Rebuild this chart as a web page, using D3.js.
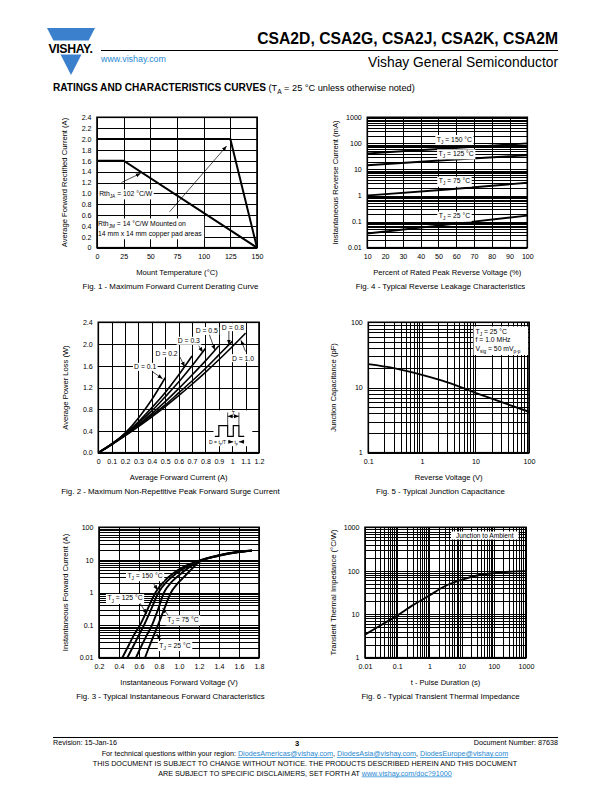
<!DOCTYPE html>
<html>
<head>
<meta charset="utf-8">
<script src="https://cdn.jsdelivr.net/npm/d3@7/dist/d3.min.js"></script>
<style>
html,body{margin:0;padding:0;background:#fff;}
svg{display:block;}
</style>
</head>
<body>
<svg id="page" width="612" height="792" xmlns="http://www.w3.org/2000/svg"></svg>
<script>
// ================= DATA =================
// Fig. 1 - Maximum Forward Current Derating Curve
const fig1XTicks = [0, 25, 50, 75, 100, 125, 150];
const fig1XLabels = ["0", "25", "50", "75", "100", "125", "150"];
const fig1YTicks = [0, 0.2, 0.4, 0.6, 0.8, 1.0, 1.2, 1.4, 1.6, 1.8, 2.0, 2.2, 2.4];
const fig1YLabels = ["0", "0.2", "0.4", "0.6", "0.8", "1.0", "1.2", "1.4", "1.6", "1.8", "2.0", "2.2", "2.4"];
const fig1TempJA = [0, 25, 150];
const fig1CurrJA = [1.6, 1.6, 0];
const fig1TempJM = [0, 125, 150];
const fig1CurrJM = [2.0, 2.0, 0];

// Fig. 2 - Average power loss
const fig2XTicks = [0, 0.1, 0.2, 0.3, 0.4, 0.5, 0.6, 0.7, 0.8, 0.9, 1.0, 1.1, 1.2];
const fig2XLabels = ["0", "0.1", "0.2", "0.3", "0.4", "0.5", "0.6", "0.7", "0.8", "0.9", "1", "1.1", "1.2"];
const fig2YTicks = [0, 0.4, 0.8, 1.2, 1.6, 2.0, 2.4];
const fig2YLabels = ["0.0", "0.4", "0.8", "1.2", "1.6", "2.0", "2.4"];
const fig2Current = [0, 0.1, 0.2, 0.3, 0.4, 0.5, 0.6, 0.7, 0.8, 0.9, 1.0, 1.1];
const fig2DutyLabels = ["0.1", "0.2", "0.3", "0.5", "0.8", "1.0"];
const fig2LossD01 = [0, 0.15, 0.36, 0.64, 0.98, 1.38];
const fig2LossD02 = [0, 0.16, 0.35, 0.57, 0.83, 1.11, 1.43, 1.78];
const fig2LossD03 = [0, 0.16, 0.34, 0.55, 0.77, 1.03, 1.30, 1.60, 1.92];
const fig2LossD05 = [0, 0.16, 0.33, 0.52, 0.72, 0.94, 1.18, 1.43, 1.69, 1.97];
const fig2LossD08 = [0, 0.15, 0.32, 0.50, 0.69, 0.88, 1.10, 1.32, 1.55, 1.80, 2.05];
const fig2LossD10 = [0, 0.15, 0.31, 0.48, 0.66, 0.85, 1.05, 1.26, 1.48, 1.71, 1.95, 2.20];

// Fig. 3 - Typical instantaneous forward characteristics
const fig3XTicks = [0.2, 0.4, 0.6, 0.8, 1.0, 1.2, 1.4, 1.6, 1.8];
const fig3XLabels = ["0.2", "0.4", "0.6", "0.8", "1.0", "1.2", "1.4", "1.6", "1.8"];
const fig3YTicks = [0.01, 0.1, 1, 10, 100];
const fig3YLabels = ["0.01", "0.1", "1", "10", "100"];
const fig3TempLabels = ["150", "125", "75", "25"];
const fig3V150 = [0.433, 0.50, 0.55, 0.61, 0.68, 0.765, 0.85, 0.95, 1.05, 1.2, 1.4, 1.6, 1.73];
const fig3I150 = [0.01, 0.025, 0.05, 0.1, 0.28, 1, 2.2, 4.0, 6.2, 9.5, 14, 17.8, 19.5];
const fig3V125 = [0.483, 0.55, 0.60, 0.65, 0.72, 0.795, 0.88, 0.97, 1.07, 1.2, 1.4, 1.6, 1.73];
const fig3I125 = [0.01, 0.025, 0.05, 0.1, 0.3, 1, 2.2, 3.8, 6.0, 9.3, 13.8, 17.6, 19.3];
const fig3V75 = [0.57, 0.63, 0.68, 0.73, 0.79, 0.85, 0.92, 1.0, 1.09, 1.2, 1.4, 1.6, 1.73];
const fig3I75 = [0.01, 0.025, 0.05, 0.1, 0.3, 1, 2.0, 3.4, 5.6, 9.0, 13.6, 17.5, 19.2];
const fig3V25 = [0.66, 0.71, 0.75, 0.79, 0.85, 0.92, 0.98, 1.05, 1.12, 1.2, 1.4, 1.6, 1.73];
const fig3I25 = [0.01, 0.025, 0.05, 0.1, 0.3, 1, 1.8, 3.0, 5.0, 8.5, 13.4, 17.4, 19.0];

// Fig. 4 - Typical reverse leakage characteristics
const fig4XTicks = [10, 20, 30, 40, 50, 60, 70, 80, 90, 100];
const fig4XLabels = ["10", "20", "30", "40", "50", "60", "70", "80", "90", "100"];
const fig4YTicks = [0.01, 0.1, 1, 10, 100, 1000];
const fig4YLabels = ["0.01", "0.1", "1", "10", "100", "1000"];
const fig4TempLabels = ["150", "125", "75", "25"];
const fig4Percent = [10, 55, 100];
const fig4I150 = [41, 64, 100];
const fig4I125 = [14.5, 23, 35];
const fig4I75 = [1.0, 1.7, 3.1];
const fig4I25 = [0.035, 0.077, 0.17];

// Fig. 5 - Typical junction capacitance
const fig5XTicks = [0.1, 1, 10, 100];
const fig5XLabels = ["0.1", "1", "10", "100"];
const fig5YTicks = [1, 10, 100];
const fig5YLabels = ["1", "10", "100"];
const fig5Voltage = [0.1, 0.3, 1, 3, 10, 30, 100];
const fig5Cap = [22.8, 19.8, 15.6, 12.0, 8.3, 6.0, 4.25];

// Fig. 6 - Typical transient thermal impedance
const fig6XTicks = [0.01, 0.1, 1, 10, 100, 1000];
const fig6XLabels = ["0.01", "0.1", "1", "10", "100", "1000"];
const fig6YTicks = [1, 10, 100, 1000];
const fig6YLabels = ["1", "10", "100", "1000"];
const fig6Time = [0.01, 0.03, 0.1, 0.3, 1, 3, 10, 30, 100, 300, 1000];
const fig6Z = [3.4, 5.5, 9.3, 16, 27, 44, 62, 78, 88, 95, 98];

// ================= DRAWING =================
const FONT = '"Liberation Sans", Arial, Helvetica, sans-serif';
const svg = d3.select('#page').attr('font-family', FONT);
svg.append('rect').attr('width', 612).attr('height', 792).attr('fill', '#fff');

const defs = svg.append('defs');
defs.append('marker').attr('id', 'ah').attr('viewBox', '0 0 10 10')
  .attr('refX', 10).attr('refY', 5).attr('markerWidth', 5).attr('markerHeight', 5)
  .attr('markerUnits', 'userSpaceOnUse').attr('orient', 'auto')
  .append('path').attr('d', 'M0,1 L10,5 L0,9 Z').attr('fill', '#000');

function logGrid(a, b) {
  const v = [];
  const e0 = Math.round(Math.log10(a)), e1 = Math.round(Math.log10(b));
  for (let e = e0; e < e1; e++) for (let k = 1; k < 10; k++) v.push(+(k * Math.pow(10, e)).toPrecision(6));
  v.push(b);
  return v;
}

function rich(g, xp, yp, parts, size, anchor, boxed, pad) {
  const t = g.append('text').attr('x', xp).attr('y', yp).attr('font-size', size)
    .attr('text-anchor', anchor || 'start').attr('fill', '#000');
  let pend = 0;
  parts.forEach(p => {
    const s = t.append('tspan');
    if (typeof p === 'string') { s.text(p); if (pend) { s.attr('dy', pend); pend = 0; } }
    else { s.attr('font-size', size * 0.7).attr('dy', size * 0.3).text(p.sub); pend = -size * 0.3; }
  });
  if (boxed) {
    const b = t.node().getBBox();
    const pd = pad == null ? 1 : pad;
    g.insert('rect', () => t.node()).attr('x', b.x - pd).attr('y', b.y - 0.5)
      .attr('width', b.width + 2 * pd).attr('height', b.height + 1).attr('fill', '#fff');
  }
  return t;
}

function arrow(g, x1, y1, x2, y2) {
  g.append('line').attr('x1', x1).attr('y1', y1).attr('x2', x2).attr('y2', y2)
    .attr('stroke', '#000').attr('stroke-width', 0.7).attr('marker-end', 'url(#ah)');
}

function makeChart(c) {
  const g = svg.append('g');
  const [L, R, T, B] = c.box;
  const W = R - L, H = B - T;
  const x = (c.xLog ? d3.scaleLog() : d3.scaleLinear()).domain(c.xDomain).range([L, R]);
  const y = (c.yLog ? d3.scaleLog() : d3.scaleLinear()).domain(c.yDomain).range([B, T]);
  // grid lines
  g.append('g').attr('transform', `translate(0,${B})`)
    .call(d3.axisBottom(x).tickValues(c.xGrid).tickSize(-H).tickFormat(''))
    .call(a => { a.select('.domain').remove(); a.selectAll('line').attr('stroke', '#000').attr('stroke-width', 1).attr('shape-rendering', 'crispEdges'); });
  g.append('g').attr('transform', `translate(${L},0)`)
    .call(d3.axisLeft(y).tickValues(c.yGrid).tickSize(-W).tickFormat(''))
    .call(a => { a.select('.domain').remove(); a.selectAll('line').attr('stroke', '#000').attr('stroke-width', 1).attr('shape-rendering', 'crispEdges'); });
  // frame
  g.append('rect').attr('x', L).attr('y', T).attr('width', W).attr('height', H)
    .attr('fill', 'none').attr('stroke', '#000').attr('stroke-width', 1.6);
  // tick labels
  const xa = g.append('g').attr('transform', `translate(0,${B + 6.5})`)
    .call(d3.axisBottom(x).tickValues(c.xTicks).tickFormat((d, i) => c.xLabels[i]).tickSize(0).tickPadding(0));
  xa.select('.domain').remove();
  xa.attr('font-family', FONT).attr('font-size', 7.1);
  xa.selectAll('text').attr('fill', '#000');
  const ya = g.append('g').attr('transform', `translate(${L - 5.5},0)`)
    .call(d3.axisLeft(y).tickValues(c.yTicks).tickFormat((d, i) => c.yLabels[i]).tickSize(0).tickPadding(0));
  ya.select('.domain').remove();
  ya.attr('font-family', FONT).attr('font-size', 7.1);
  ya.selectAll('text').attr('fill', '#000');
  // axis titles
  g.append('text').attr('x', (L + R) / 2).attr('y', B + 27).attr('text-anchor', 'middle')
    .attr('font-size', 7.6).text(c.xTitle);
  g.append('text').attr('transform', `translate(${c.yTitleX},${(T + B) / 2}) rotate(-90)`)
    .attr('text-anchor', 'middle').attr('font-size', 7.6).text(c.yTitle);
  // caption
  g.append('text').attr('x', c.capX).attr('y', B + 41.5).attr('text-anchor', 'middle')
    .attr('font-size', 7.9).text(c.caption);
  return { g, x, y };
}

function drawLine(ch, xs, ys, w, curve) {
  const pts = xs.map((v, i) => [v, ys[i]]);
  ch.g.append('path').datum(pts)
    .attr('d', d3.line().x(d => ch.x(d[0])).y(d => ch.y(d[1])).curve(curve || d3.curveLinear))
    .attr('fill', 'none').attr('stroke', '#000').attr('stroke-width', w || 1.8)
    .attr('stroke-linejoin', 'miter');
}

const LEFT_CAP = 170.5, RIGHT_CAP = 440.5;

// ---------- Fig. 1 ----------
{
  const ch = makeChart({
    box: [97, 257, 117.3, 247.7], xDomain: [0, 150], yDomain: [0, 2.4],
    xGrid: fig1XTicks, yGrid: fig1YTicks, xTicks: fig1XTicks, xLabels: fig1XLabels,
    yTicks: fig1YTicks, yLabels: fig1YLabels,
    xTitle: 'Mount Temperature (°C)', yTitle: 'Average Forward Rectified Current (A)', yTitleX: 67,
    caption: 'Fig. 1 - Maximum Forward Current Derating Curve', capX: LEFT_CAP
  });
  const { g, x, y } = ch;
  const t1 = rich(g, x(1), y(0.4), ['Rth', { sub: 'JM' }, ' = 14 °C/W Mounted on'], 6.8, 'start', false);
  const t2 = rich(g, x(1), y(0.22), ['14 mm x 14 mm copper  pad areas'], 6.8, 'start', false);
  const b1 = t1.node().getBBox(), b2 = t2.node().getBBox();
  g.insert('rect', () => t1.node()).attr('x', x(0) + 1).attr('y', b1.y - 1.5)
    .attr('width', Math.max(b1.x + b1.width, b2.x + b2.width) - x(0) + 1).attr('height', b2.y + b2.height - b1.y + 3).attr('fill', '#fff');
  rich(g, x(2), y(1.0) + 2.5, ['Rth', { sub: 'JA' }, ' = 102 °C/W '], 6.8, 'start', true);
  drawLine(ch, fig1TempJA, fig1CurrJA, 2);
  drawLine(ch, fig1TempJM, fig1CurrJM, 2);
  arrow(g, x(23), y(1.2), x(41), y(1.37));
  arrow(g, x(68), y(0.66), x(121.5), y(1.87));
}

// ---------- Fig. 4 ----------
{
  const ch = makeChart({
    box: [367.3, 527.3, 117.3, 247.7], xDomain: [10, 100], yDomain: [0.01, 1000], yLog: true,
    xGrid: fig4XTicks, yGrid: logGrid(0.01, 1000), xTicks: fig4XTicks, xLabels: fig4XLabels,
    yTicks: fig4YTicks, yLabels: fig4YLabels,
    xTitle: 'Percent of Rated Peak Reverse Voltage (%)', yTitle: 'Instantaneous Reverse Current (mA)', yTitleX: 338,
    caption: 'Fig. 4 - Typical Reverse Leakage Characteristics', capX: RIGHT_CAP
  });
  const { g, x, y } = ch;
  drawLine(ch, fig4Percent, fig4I150, 1.9, d3.curveMonotoneX);
  drawLine(ch, fig4Percent, fig4I125, 1.9, d3.curveMonotoneX);
  drawLine(ch, fig4Percent, fig4I75, 1.9, d3.curveMonotoneX);
  drawLine(ch, fig4Percent, fig4I25, 1.9, d3.curveMonotoneX);
  const pos = [[59, 147], [60, 41.6], [59, 3.7], [59, 0.17]];
  fig4TempLabels.forEach((lab, i) => {
    rich(g, x(pos[i][0]), y(pos[i][1]) + 2.5, ['T', { sub: 'J' }, ' = ' + lab + ' °C'], 6.8, 'middle', true, 1.5);
  });
}

// ---------- Fig. 2 ----------
{
  const ch = makeChart({
    box: [98.3, 259, 322.3, 452.7], xDomain: [0, 1.2], yDomain: [0, 2.4],
    xGrid: fig2XTicks, yGrid: fig2YTicks, xTicks: fig2XTicks, xLabels: fig2XLabels,
    yTicks: fig2YTicks, yLabels: fig2YLabels,
    xTitle: 'Average Forward Current (A)', yTitle: 'Average Power Loss (W)', yTitleX: 68,
    caption: 'Fig. 2 - Maximum Non-Repetitive Peak Forward Surge Current', capX: LEFT_CAP
  });
  const { g, x, y } = ch;
  const series = [fig2LossD01, fig2LossD02, fig2LossD03, fig2LossD05, fig2LossD08, fig2LossD10];
  series.forEach(s => drawLine(ch, fig2Current.slice(0, s.length), s, 1.6, d3.curveMonotoneX));
  const lp = [[0.35, 1.58], [0.51, 1.83], [0.676, 2.06], [0.81, 2.24], [1.005, 2.31], [1.08, 1.74]];
  const ar = [[0.40, 1.50, 0.48, 1.36], [0.61, 1.76, 0.645, 1.58], [0.75, 1.97, 0.78, 1.85],
              [0.83, 2.17, 0.87, 1.89], [0.975, 2.24, 0.975, 1.99], [1.1, 1.86, 1.065, 2.07]];
  fig2DutyLabels.forEach((lab, i) => {
    rich(g, x(lp[i][0]), y(lp[i][1]) + 2.5, ['D = ' + lab], 6.8, 'middle', true, 1.2);
    arrow(g, x(ar[i][0]), y(ar[i][1]), x(ar[i][2]), y(ar[i][3]));
  });
  g.append('rect').attr('x', x(0.86)).attr('y', y(0.78)).attr('width', x(1.15) - x(0.86)).attr('height', y(0.12) - y(0.78)).attr('fill', '#fff');
  const wave = [[0.87, 0.30], [0.90, 0.30], [0.90, 0.50], [0.966, 0.50], [0.966, 0.30], [1.008, 0.30],
                [1.008, 0.50], [1.05, 0.50], [1.05, 0.30], [1.09, 0.30]];
  g.append('path').attr('d', d3.line().x(d => x(d[0])).y(d => y(d[1]))(wave))
    .attr('fill', 'none').attr('stroke', '#000').attr('stroke-width', 1.2);
  g.append('line').attr('x1', x(0.966)).attr('x2', x(0.966)).attr('y1', y(0.5)).attr('y2', y(0.74)).attr('stroke', '#000').attr('stroke-width', 0.7);
  g.append('line').attr('x1', x(1.05)).attr('x2', x(1.05)).attr('y1', y(0.5)).attr('y2', y(0.74)).attr('stroke', '#000').attr('stroke-width', 0.7);
  arrow(g, x(1.008), y(0.67), x(0.966), y(0.67));
  arrow(g, x(1.008), y(0.67), x(1.05), y(0.67));
  g.append('text').attr('x', x(1.008)).attr('y', y(0.70)).attr('text-anchor', 'middle').attr('font-size', 5).text('T');
  rich(g, x(0.955), y(0.2) + 1.8, ['D = t', { sub: 'p' }, '/T'], 5, 'end', false);
  arrow(g, x(0.97), y(0.2), x(1.008), y(0.2));
  arrow(g, x(1.09), y(0.2), x(1.05), y(0.2));
  rich(g, x(1.029), y(0.2) + 1.8, ['t', { sub: 'p' }], 5, 'middle', false);
}

// ---------- Fig. 5 ----------
{
  const ch = makeChart({
    box: [368.3, 529, 322.3, 452.7], xDomain: [0.1, 100], yDomain: [1, 100], xLog: true, yLog: true,
    xGrid: logGrid(0.1, 100), yGrid: logGrid(1, 100), xTicks: fig5XTicks, xLabels: fig5XLabels,
    yTicks: fig5YTicks, yLabels: fig5YLabels,
    xTitle: 'Reverse Voltage (V)', yTitle: 'Junction Capacitance (pF)', yTitleX: 336,
    caption: 'Fig. 5 - Typical Junction Capacitance', capX: RIGHT_CAP
  });
  const { g } = ch;
  drawLine(ch, fig5Voltage, fig5Cap, 1.9, d3.curveMonotoneX);
  const bx = 473.5, by = 326.5;
  g.append('rect').attr('x', bx).attr('y', by).attr('width', 54.5).attr('height', 28.5).attr('fill', '#fff');
  rich(g, bx + 2, by + 7.5, ['T', { sub: 'J' }, ' = 25 °C'], 6.8, 'start', false);
  rich(g, bx + 2, by + 15.8, ['f = 1.0 MHz'], 6.8, 'start', false);
  rich(g, bx + 2, by + 24, ['V', { sub: 'sig' }, ' = 50 mV', { sub: 'p-p' }], 6.8, 'start', false);
}

// ---------- Fig. 3 ----------
{
  const ch = makeChart({
    box: [99, 259, 527.3, 657.7], xDomain: [0.2, 1.8], yDomain: [0.01, 100], yLog: true,
    xGrid: fig3XTicks, yGrid: logGrid(0.01, 100), xTicks: fig3XTicks, xLabels: fig3XLabels,
    yTicks: fig3YTicks, yLabels: fig3YLabels,
    xTitle: 'Instantaneous Forward Voltage (V)', yTitle: 'Instantaneous Forward Current (A)', yTitleX: 68,
    caption: 'Fig. 3 - Typical Instantaneous Forward Characteristics', capX: LEFT_CAP
  });
  const { g, x, y } = ch;
  drawLine(ch, fig3V150, fig3I150, 1.9, d3.curveMonotoneX);
  drawLine(ch, fig3V125, fig3I125, 1.9, d3.curveMonotoneX);
  drawLine(ch, fig3V75, fig3I75, 1.9, d3.curveMonotoneX);
  drawLine(ch, fig3V25, fig3I25, 1.9, d3.curveMonotoneX);
  const lp = [[0.66, 3.4], [0.46, 0.68], [1.04, 0.15], [0.96, 0.0245]];
  const ar = [[0.743, 1.9, 0.787, 1.2], [0.61, 0.47, 0.677, 0.22], [0.893, 0.2, 0.835, 0.33], [0.82, 0.035, 0.777, 0.053]];
  fig3TempLabels.forEach((lab, i) => {
    rich(g, x(lp[i][0]), y(lp[i][1]) + 2.5, ['T', { sub: 'J' }, ' = ' + lab + ' °C'], 6.8, 'middle', true, 1.5);
    arrow(g, x(ar[i][0]), y(ar[i][1]), x(ar[i][2]), y(ar[i][3]));
  });
}

// ---------- Fig. 6 ----------
{
  const ch = makeChart({
    box: [365, 526, 527.3, 657.7], xDomain: [0.01, 1000], yDomain: [1, 1000], xLog: true, yLog: true,
    xGrid: logGrid(0.01, 1000), yGrid: logGrid(1, 1000), xTicks: fig6XTicks, xLabels: fig6XLabels,
    yTicks: fig6YTicks, yLabels: fig6YLabels,
    xTitle: 't - Pulse Duration (s)', yTitle: 'Transient Thermal Impedance (°C/W)', yTitleX: 336,
    caption: 'Fig. 6 - Typical Transient Thermal Impedance', capX: RIGHT_CAP
  });
  const { g } = ch;
  drawLine(ch, fig6Time, fig6Z, 1.9, d3.curveMonotoneX);
  g.append('rect').attr('x', 451).attr('y', 531.5).attr('width', 67.5).attr('height', 8).attr('fill', '#fff');
  rich(g, 484.7, 538, ['Junction to Ambient'], 6.6, 'middle', false);
}

// ---------- Header ----------
{
  const blue = '#3b80cc';
  svg.append('path').attr('d', 'M47,28 L95,28 L71,75 Z').attr('fill', blue);
  svg.append('rect').attr('x', 44).attr('y', 40.5).attr('width', 54).attr('height', 14).attr('fill', '#fff');
  svg.append('text').attr('x', 70.5).attr('y', 52.5).attr('text-anchor', 'middle').attr('font-weight', 'bold')
    .attr('font-size', 12.3).attr('letter-spacing', -0.4).text('VISHAY.');
  svg.append('text').attr('x', 558).attr('y', 44).attr('text-anchor', 'end').attr('font-weight', 'bold')
    .attr('font-size', 15.7).text('CSA2D, CSA2G, CSA2J, CSA2K, CSA2M');
  svg.append('line').attr('x1', 101).attr('x2', 558).attr('y1', 50.5).attr('y2', 50.5).attr('stroke', '#000').attr('stroke-width', 1);
  svg.append('text').attr('x', 101).attr('y', 62).attr('font-size', 8.9).attr('fill', '#2a8ad4').text('www.vishay.com');
  svg.append('text').attr('x', 558).attr('y', 67).attr('text-anchor', 'end').attr('font-size', 13.8).text('Vishay General Semiconductor');
  const h = svg.append('text').attr('x', 53).attr('y', 91).attr('font-size', 9.2);
  h.append('tspan').attr('font-weight', 'bold').attr('font-size', 10.1).text('RATINGS AND CHARACTERISTICS CURVES');
  h.append('tspan').text(' (T');
  h.append('tspan').attr('font-size', 6.6).attr('dy', 2.5).text('A');
  h.append('tspan').attr('dy', -2.5).text(' = 25 °C unless otherwise noted)');
}

// ---------- Footer ----------
{
  const link = '#1f87d0';
  svg.append('line').attr('x1', 53).attr('x2', 558).attr('y1', 737.5).attr('y2', 737.5).attr('stroke', '#000').attr('stroke-width', 1);
  svg.append('text').attr('x', 53).attr('y', 745).attr('font-size', 7.2).text('Revision: 15-Jan-16');
  svg.append('text').attr('x', 297).attr('y', 746).attr('text-anchor', 'middle').attr('font-weight', 'bold').attr('font-size', 7.5).text('3');
  svg.append('text').attr('x', 558).attr('y', 745).attr('text-anchor', 'end').attr('font-size', 7.2).text('Document Number: 87638');
  const l2 = svg.append('text').attr('x', 305).attr('y', 756).attr('text-anchor', 'middle').attr('font-size', 7.2);
  l2.append('tspan').text('For technical questions within your region: ');
  l2.append('tspan').attr('fill', link).attr('text-decoration', 'underline').text('DiodesAmericas@vishay.com');
  l2.append('tspan').text(', ');
  l2.append('tspan').attr('fill', link).attr('text-decoration', 'underline').text('DiodesAsia@vishay.com');
  l2.append('tspan').text(', ');
  l2.append('tspan').attr('fill', link).attr('text-decoration', 'underline').text('DiodesEurope@vishay.com');
  svg.append('text').attr('x', 305).attr('y', 766).attr('text-anchor', 'middle').attr('font-size', 7.2)
    .text('THIS DOCUMENT IS SUBJECT TO CHANGE WITHOUT NOTICE. THE PRODUCTS DESCRIBED HEREIN AND THIS DOCUMENT');
  const l4 = svg.append('text').attr('x', 305).attr('y', 775.5).attr('text-anchor', 'middle').attr('font-size', 7.2);
  l4.append('tspan').text('ARE SUBJECT TO SPECIFIC DISCLAIMERS, SET FORTH AT ');
  l4.append('tspan').attr('fill', link).attr('text-decoration', 'underline').text('www.vishay.com/doc?91000');
}
</script>
</body>
</html>
